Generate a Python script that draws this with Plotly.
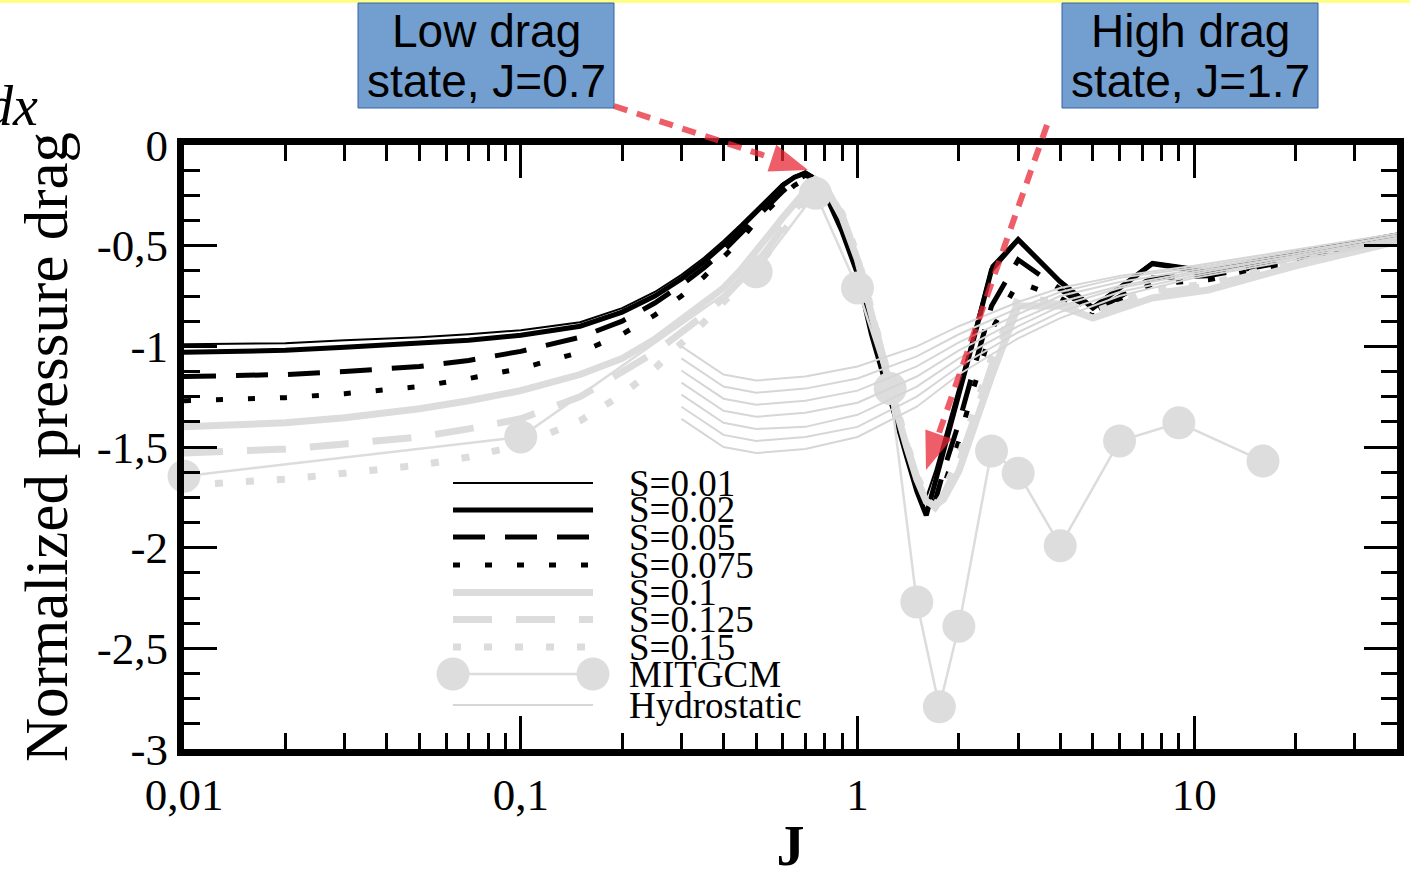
import plotly.graph_objects as go
import math

# ---------------- data ----------------
J = [0.01, 0.02, 0.03, 0.05, 0.07, 0.1, 0.15, 0.2, 0.25, 0.3, 0.35, 0.4, 0.45, 0.5, 0.55, 0.6, 0.65, 0.7,
     0.75, 0.8, 0.9, 1.0, 1.1, 1.2, 1.3, 1.4, 1.5, 1.6, 1.7, 1.8, 2.0, 2.2, 2.5, 3.0, 4.0, 5.0, 7.5, 11,
     20, 40]

S_labels = ["S=0.01", "S=0.02", "S=0.05", "S=0.075", "S=0.1", "S=0.125", "S=0.15"]

S001 = [-0.99, -0.985, -0.97, -0.955, -0.94, -0.92, -0.88, -0.81, -0.73, -0.645, -0.56, -0.475, -0.395, -0.32,
        -0.25, -0.19, -0.155, -0.13, -0.16, -0.22, -0.41, -0.62, -0.92, -1.14, -1.33, -1.52, -1.66, -1.75,
        -1.62, -1.47, -1.20, -0.95, -0.60, -0.46, -0.67, -0.80, -0.58, -0.62, -0.53, -0.44]
S002 = [-1.03, -1.02, -1.005, -0.985, -0.97, -0.945, -0.90, -0.83, -0.75, -0.665, -0.58, -0.495, -0.41, -0.33,
        -0.26, -0.20, -0.16, -0.14, -0.17, -0.24, -0.43, -0.64, -0.94, -1.17, -1.36, -1.55, -1.72, -1.84,
        -1.68, -1.52, -1.24, -0.98, -0.62, -0.47, -0.68, -0.81, -0.59, -0.63, -0.54, -0.45]
S005 = [-1.15, -1.14, -1.125, -1.10, -1.07, -1.025, -0.955, -0.875, -0.785, -0.695, -0.61, -0.525, -0.44, -0.36,
        -0.29, -0.23, -0.18, -0.15, -0.17, -0.23, -0.42, -0.63, -0.92, -1.15, -1.35, -1.53, -1.68, -1.80,
        -1.77, -1.62, -1.38, -1.13, -0.80, -0.57, -0.72, -0.83, -0.66, -0.65, -0.57, -0.46]
S0075 = [-1.27, -1.255, -1.235, -1.20, -1.16, -1.11, -1.03, -0.94, -0.845, -0.75, -0.655, -0.56, -0.47, -0.38,
         -0.31, -0.25, -0.20, -0.17, -0.17, -0.22, -0.41, -0.62, -0.91, -1.14, -1.34, -1.52, -1.67, -1.80,
         -1.81, -1.70, -1.47, -1.22, -0.92, -0.68, -0.76, -0.85, -0.69, -0.67, -0.58, -0.47]
S01 = [-1.40, -1.38, -1.355, -1.31, -1.27, -1.22, -1.14, -1.06, -0.965, -0.87, -0.79, -0.71, -0.62, -0.53,
       -0.44, -0.36, -0.29, -0.22, -0.17, -0.20, -0.36, -0.57, -0.85, -1.10, -1.31, -1.50, -1.66, -1.77,
       -1.79, -1.76, -1.62, -1.42, -1.15, -0.80, -0.80, -0.86, -0.76, -0.72, -0.60, -0.48]
S0125 = [-1.53, -1.51, -1.485, -1.45, -1.41, -1.36, -1.25, -1.13, -1.03, -0.93, -0.845, -0.76, -0.675, -0.59,
         -0.50, -0.41, -0.33, -0.26, -0.18, -0.20, -0.35, -0.56, -0.84, -1.09, -1.30, -1.49, -1.65, -1.76,
         -1.80, -1.74, -1.58, -1.38, -1.10, -0.78, -0.79, -0.84, -0.74, -0.70, -0.59, -0.47]
S015 = [-1.69, -1.66, -1.63, -1.59, -1.55, -1.49, -1.37, -1.24, -1.11, -0.99, -0.88, -0.78, -0.695, -0.61,
        -0.525, -0.44, -0.36, -0.29, -0.21, -0.21, -0.34, -0.55, -0.83, -1.08, -1.29, -1.48, -1.64, -1.75,
        -1.79, -1.72, -1.55, -1.34, -1.06, -0.76, -0.78, -0.83, -0.72, -0.69, -0.58, -0.47]

MIT_J = [0.01, 0.1, 0.5, 0.75, 1.0, 1.25, 1.5, 1.75, 2.0, 2.5, 3.0, 4.0, 6.0, 9.0, 16.0]
MIT_val = [-1.645, -1.45, -0.63, -0.24, -0.71, -1.21, -2.27, -2.79, -2.39, -1.52, -1.63, -1.99, -1.47,
           -1.38, -1.57]

HYD_J = [0.3, 0.4, 0.5, 0.7, 1.0, 1.5, 2.0, 3.0, 4.0, 6.0, 10, 20, 40]
HYD_1 = [-1.00, -1.14, -1.17, -1.15, -1.10, -1.00, -0.90, -0.78, -0.71, -0.65, -0.60, -0.52, -0.44]
HYD_2 = [-1.06, -1.20, -1.23, -1.21, -1.16, -1.05, -0.94, -0.81, -0.73, -0.66, -0.61, -0.53, -0.45]
HYD_3 = [-1.12, -1.26, -1.29, -1.27, -1.22, -1.10, -0.98, -0.84, -0.75, -0.68, -0.62, -0.54, -0.45]
HYD_4 = [-1.18, -1.32, -1.35, -1.33, -1.28, -1.15, -1.02, -0.87, -0.78, -0.70, -0.63, -0.55, -0.46]
HYD_5 = [-1.24, -1.38, -1.41, -1.40, -1.34, -1.20, -1.06, -0.90, -0.80, -0.71, -0.64, -0.55, -0.46]
HYD_6 = [-1.30, -1.44, -1.47, -1.45, -1.40, -1.25, -1.10, -0.93, -0.83, -0.73, -0.65, -0.56, -0.47]
HYD_7 = [-1.36, -1.50, -1.53, -1.51, -1.45, -1.30, -1.14, -0.96, -0.86, -0.75, -0.66, -0.57, -0.48]

x_tickvals = [0.01, 0.1, 1, 10]
x_ticktext = ["0,01", "0,1", "1", "10"]
x_minor = [2e-2, 3e-2, 4e-2, 5e-2, 6e-2, 7e-2, 8e-2, 9e-2, 0.2, 0.3, 0.4, 0.5, 0.6, 0.7, 0.8, 0.9,
           2, 3, 4, 5, 6, 7, 8, 9, 20, 30]
y_tickvals = [0, -0.5, -1, -1.5, -2, -2.5, -3]
y_ticktext = ["0", "-0,5", "-1", "-1,5", "-2", "-2,5", "-3"]

# ---------------- styles ----------------
BLACK = "#000000"
GRAY = "#dcdcdc"
S_series = [S001, S002, S005, S0075, S01, S0125, S015]
S_styles = [
    dict(color=BLACK, width=2, dash="solid"),
    dict(color=BLACK, width=5, dash="solid"),
    dict(color=BLACK, width=5, dash="32px,20px"),
    dict(color=BLACK, width=5, dash="7px,25px"),
    dict(color=GRAY, width=7, dash="solid"),
    dict(color=GRAY, width=7, dash="39px,24px"),
    dict(color=GRAY, width=7, dash="8px,23px"),
]
HYD = [HYD_1, HYD_2, HYD_3, HYD_4, HYD_5, HYD_6, HYD_7]

W, H = 1410, 877
L, R, T, B = 184, 13, 145, 128
PW, PH = W - L - R, H - T - B


def px(x):
    return (x - L) / PW


def py(y):
    return (H - B - y) / PH


fig = go.Figure()
for vals, st, name in zip(S_series, S_styles, S_labels):
    fig.add_trace(go.Scatter(x=J, y=vals, mode="lines", name=name, line=st, showlegend=False))

fig.add_trace(go.Scatter(x=MIT_J, y=MIT_val, mode="lines+markers", name="MITGCM",
                         line=dict(color=GRAY, width=2.5),
                         marker=dict(size=33, color="#dddddd", line=dict(width=0)),
                         cliponaxis=False, showlegend=False))
for k, h in enumerate(HYD):
    fig.add_trace(go.Scatter(x=HYD_J, y=h, mode="lines", name="Hydrostatic",
                             line=dict(color="#d6d6d6", width=2), showlegend=False))

SERIF = "Liberation Serif"
SANS = "Liberation Sans"

shapes = []
annotations = []

# ---- manual legend ----
rows = [483, 510, 537, 565, 592.5, 619.5, 647, 674, 705]
legend_labels = S_labels + ["MITGCM", "Hydrostatic"]
legend_styles = S_styles + [dict(color=GRAY, width=2.5, dash="solid"), dict(color="#d6d6d6", width=2, dash="solid")]
for lab, st, r in zip(legend_labels, legend_styles, rows):
    shapes.append(dict(type="line", xref="paper", yref="paper", x0=px(453), x1=px(593), y0=py(r), y1=py(r),
                       line=st, layer="above"))
    annotations.append(dict(text=lab, xref="paper", yref="paper", x=px(627), y=py(r), xanchor="left",
                            yanchor="middle", showarrow=False, font=dict(family=SERIF, size=37, color="black")))
for cx in (453, 593):
    shapes.append(dict(type="circle", xref="paper", yref="paper", x0=px(cx - 16.5), x1=px(cx + 16.5),
                       y0=py(rows[7] + 16.5), y1=py(rows[7] - 16.5), fillcolor="#dddddd",
                       line=dict(width=0), layer="above"))

# ---- yellow top strip ----
shapes.append(dict(type="rect", xref="paper", yref="paper", x0=px(0), x1=px(W), y0=py(3), y1=py(0),
                   fillcolor="#ffff88", line=dict(width=0), layer="above"))

# ---- blue boxes ----
for (x0, x1, l1, l2) in [(358, 614, "Low drag", "state, J=0.7"), (1062, 1318, "High drag", "state, J=1.7")]:
    shapes.append(dict(type="rect", xref="paper", yref="paper", x0=px(x0), x1=px(x1), y0=py(108), y1=py(3),
                       fillcolor="#729fcf", line=dict(color="#3465a4", width=1), layer="above"))
    cx = (x0 + x1) / 2
    annotations.append(dict(text=l1, xref="paper", yref="paper", x=px(cx), y=py(31), xanchor="center",
                            yanchor="middle", showarrow=False, font=dict(family=SANS, size=46, color="black")))
    annotations.append(dict(text=l2, xref="paper", yref="paper", x=px(cx), y=py(81), xanchor="center",
                            yanchor="middle", showarrow=False, font=dict(family=SANS, size=46, color="black")))

# ---- red dashed arrows ----
RED = "rgba(232,40,55,0.75)"
for (sx, sy, tx, ty) in [(614, 106, 808, 170), (1047, 125, 926, 470)]:
    dx, dy = tx - sx, ty - sy
    n = math.hypot(dx, dy)
    ux, uy = dx / n, dy / n
    hl, hw = 38, 14
    bx, by = tx - hl * ux, ty - hl * uy
    shapes.append(dict(type="line", xref="paper", yref="paper", x0=px(sx), y0=py(sy), x1=px(bx), y1=py(by),
                       line=dict(color=RED, width=6, dash="14px,10px"), layer="above"))
    p1 = (bx - hw * uy, by + hw * ux)
    p2 = (bx + hw * uy, by - hw * ux)
    path = "M {} {} L {} {} L {} {} Z".format(px(tx), py(ty), px(p1[0]), py(p1[1]), px(p2[0]), py(p2[1]))
    shapes.append(dict(type="path", xref="paper", yref="paper", path=path, fillcolor=RED,
                       line=dict(width=0), layer="above"))

# ---- cut-off 'dx' text at top-left ----
annotations.append(dict(text="<i>dx</i>", xref="paper", yref="paper", x=px(40), y=py(106), xanchor="right",
                        yanchor="middle", showarrow=False, font=dict(family=SERIF, size=56, color="black")))

fig.update_layout(
    width=W, height=H,
    margin=dict(l=L, r=R, t=T, b=B, autoexpand=False),
    paper_bgcolor="white", plot_bgcolor="white",
    showlegend=False,
    shapes=shapes, annotations=annotations,
    xaxis=dict(type="log", range=[-2, math.log10(40)], showline=True, linewidth=7, linecolor="black",
               mirror="allticks", ticks="inside", ticklen=33, tickwidth=2.5, tickcolor="black",
               tickmode="array", tickvals=x_tickvals, ticktext=x_ticktext, showgrid=False, zeroline=False,
               tickfont=dict(family=SERIF, size=45, color="black"),
               minor=dict(tickmode="array", tickvals=x_minor, ticks="inside", ticklen=16, tickwidth=2.5,
                          tickcolor="black", showgrid=False),
               title=dict(text="J", font=dict(family=SERIF, size=56, color="black", weight="bold"), standoff=10)),
    yaxis=dict(range=[-3, 0], showline=True, linewidth=7, linecolor="black",
               mirror="allticks", ticks="inside", ticklen=33, tickwidth=2.5, tickcolor="black",
               tickmode="array", tickvals=y_tickvals, ticktext=y_ticktext, showgrid=False, zeroline=False,
               tickfont=dict(family=SERIF, size=45, color="black"),
               minor=dict(dtick=0.125, tick0=0, ticks="inside", ticklen=16, tickwidth=2.5,
                          tickcolor="black", showgrid=False),
               title=dict(text="Normalized pressure drag", font=dict(family=SERIF, size=61, color="black"),
                          standoff=12)),
)

fig.write_html("out.html", config={"displayModeBar": False},
               post_script="document.body.style.margin='0';document.body.style.padding='0';")
